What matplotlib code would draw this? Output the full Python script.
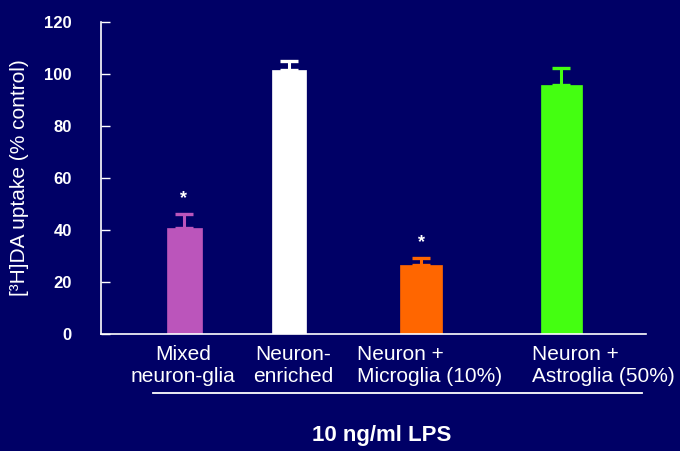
import matplotlib.pyplot as plt
from matplotlib.lines import Line2D

# DATA
groups = ["Mixed\nneuron-glia", "Neuron-\nenriched",
          "Neuron +\nMicroglia (10%)", "Neuron +\nAstroglia (50%)"]
uptake = [40.9, 101.5, 26.5, 95.7]
sem = [5.3, 3.4, 2.6, 6.7]
significant = [True, False, True, False]
y_ticks = [0, 20, 40, 60, 80, 100, 120]
ylabel = "[³H]DA uptake (% control)"
xlabel = "10 ng/ml LPS"

# LAYOUT (x axis in pixel-like units, axis runs 101..646)
BG = "#000066"
bar_colors = ["#bb55bb", "#ffffff", "#ff6600", "#44ff11"]
bar_x = [184, 289, 421, 561]
bar_w = [35, 34, 42, 41]
label_x = [183, 293, 357, 532]
label_ha = ["center", "center", "left", "left"]

plt.rcParams["font.family"] = ["Liberation Sans", "DejaVu Sans"]

fig = plt.figure(figsize=(6.8, 4.51), dpi=100)
fig.patch.set_facecolor(BG)
ax = fig.add_axes([101 / 680, 1 - 334 / 451, 545 / 680, 312 / 451])
ax.set_facecolor(BG)

for x, w, v, e, c in zip(bar_x, bar_w, uptake, sem, bar_colors):
    ax.bar(x, v, width=w, color=c, edgecolor=c, linewidth=0.5, zorder=2)
    ax.errorbar(x, v, yerr=[[0], [e]], fmt="none", ecolor=c,
                elinewidth=2.2, capsize=6.2, capthick=2.4, zorder=3)

# asterisks above significant bars
for x, v, e, s in zip(bar_x, uptake, sem, significant):
    if s:
        ax.text(x, v + e + 6.0, "*", color="white", ha="center",
                va="center", fontsize=13, fontweight="bold")

ax.set_xlim(101, 646)
ax.set_ylim(0, 120)
ax.set_yticks(y_ticks)
ax.set_xticks([])
ax.tick_params(axis="y", direction="in", length=6.5, width=1,
               colors="white", pad=21, labelsize=12)
for lab in ax.get_yticklabels():
    lab.set_fontweight("bold")

for side in ["top", "right"]:
    ax.spines[side].set_visible(False)
for side in ["left", "bottom"]:
    ax.spines[side].set_color("white")
    ax.spines[side].set_linewidth(1.2)

ax.set_ylabel(ylabel, color="white", fontsize=15)
ax.yaxis.set_label_coords(-0.132, 0.5)

# category labels below the axis
for x, txt, ha in zip(label_x, groups, label_ha):
    ax.text(x, -4.4, txt, color="white", fontsize=15, ha=ha, va="top",
            multialignment="left" if ha == "left" else "center",
            linespacing=1.2, clip_on=False)

fig.add_artist(Line2D([153 / 680, 642 / 680], [1 - 393 / 451, 1 - 393 / 451],
                      color="white", linewidth=1.3))
fig.text(382 / 680, 1 - 435 / 451, xlabel, color="white", fontsize=16,
         fontweight="bold", ha="center", va="center")

fig.savefig("out.png", dpi=100, facecolor=BG)
